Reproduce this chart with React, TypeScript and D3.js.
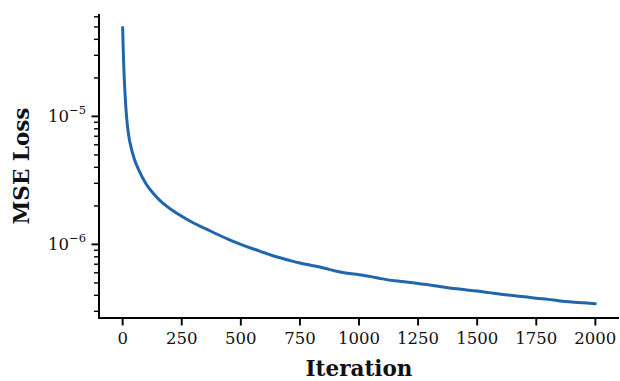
import React from 'react';
import * as d3 from 'd3';

// values
const iterations = [0, 2, 4, 6, 9, 13, 18, 25, 35, 50, 70, 100, 130, 170, 210, 250, 300, 350, 400, 450, 500, 550, 600, 650, 700, 750, 800, 850, 900, 950, 1000, 1050, 1100, 1150, 1200, 1250, 1300, 1350, 1400, 1450, 1500, 1550, 1600, 1650, 1700, 1750, 1800, 1850, 1900, 1950, 2000];
const mseLoss = [4.95e-5, 3.6e-5, 2.7e-5, 2.15e-5, 1.65e-5, 1.22e-5, 9.3e-6, 7.2e-6, 5.8e-6, 4.6e-6, 3.75e-6, 2.95e-6, 2.5e-6, 2.1e-6, 1.85e-6, 1.66e-6, 1.47e-6, 1.33e-6, 1.2e-6, 1.09e-6, 1.0e-6, 9.25e-7, 8.6e-7, 8.0e-7, 7.55e-7, 7.15e-7, 6.85e-7, 6.55e-7, 6.2e-7, 5.95e-7, 5.8e-7, 5.6e-7, 5.38e-7, 5.2e-7, 5.08e-7, 4.95e-7, 4.82e-7, 4.66e-7, 4.52e-7, 4.42e-7, 4.32e-7, 4.2e-7, 4.08e-7, 3.98e-7, 3.9e-7, 3.8e-7, 3.72e-7, 3.62e-7, 3.55e-7, 3.5e-7, 3.44e-7];
const xTicks = [0, 250, 500, 750, 1000, 1250, 1500, 1750, 2000];
const yMajor = [1e-5, 1e-6];
const yMajorLabels = ['\u22125', '\u22126'];

const W = 620;
const H = 381;
const left = 99, right = 619, top = 14, bottom = 318;
const font = 'DejaVu Serif';

export default function App() {
  const x = d3.scaleLinear().domain([-100, 2100]).range([left, right]);
  const y = d3.scaleLog().domain([10 ** -6.575, 10 ** -4.2]).range([bottom, top]);

  const line = d3.line<number>()
    .x((_, i) => x(iterations[i]))
    .y(d => y(d))
    .curve(d3.curveMonotoneX);

  const minor = y.ticks().filter(t => !yMajor.some(m => Math.abs(m - t) / m < 1e-6));

  return (
    <svg width={W} height={H} style={{ position: 'absolute', left: 0, top: 0 }} fontFamily={font}>
      <rect width={W} height={H} fill="#fff" />
      <path d={line(mseLoss) || ''} fill="none" stroke="#2166ac" strokeWidth={3} strokeLinejoin="round" strokeLinecap="round" />

      {/* y axis */}
      {minor.map((t, i) => (
        <line key={'m' + i} x1={left - 5} x2={left} y1={y(t)} y2={y(t)} stroke="#000" strokeWidth={1.4} />
      ))}
      {yMajor.map((t, i) => (
        <g key={'y' + i} transform={`translate(0,${y(t)})`}>
          <line x1={left - 7.5} x2={left} stroke="#000" strokeWidth={1.9} />
          <text x={left - 13} y={6} textAnchor="end" fontSize={16.5} fill="#111">
            10<tspan dy={-8} fontSize={11.5}>{yMajorLabels[i]}</tspan>
          </text>
        </g>
      ))}
      <line x1={left} x2={left} y1={top} y2={bottom + 1} stroke="#000" strokeWidth={2} />
      <text transform={`translate(29,166) rotate(-90)`} textAnchor="middle" fontSize={21.5} fontWeight="bold" fill="#111">MSE Loss</text>

      {/* x axis */}
      {xTicks.map(t => (
        <g key={t} transform={`translate(${x(t)},0)`}>
          <line y1={bottom} y2={bottom + 7.5} stroke="#000" strokeWidth={1.9} />
          <text y={bottom + 26} textAnchor="middle" fontSize={16.5} fill="#111">{t}</text>
        </g>
      ))}
      <line x1={left - 1} x2={right} y1={bottom} y2={bottom} stroke="#000" strokeWidth={2} />
      <text x={(left + right) / 2} y={376} textAnchor="middle" fontSize={21.5} fontWeight="bold" fill="#111">Iteration</text>
    </svg>
  );
}
